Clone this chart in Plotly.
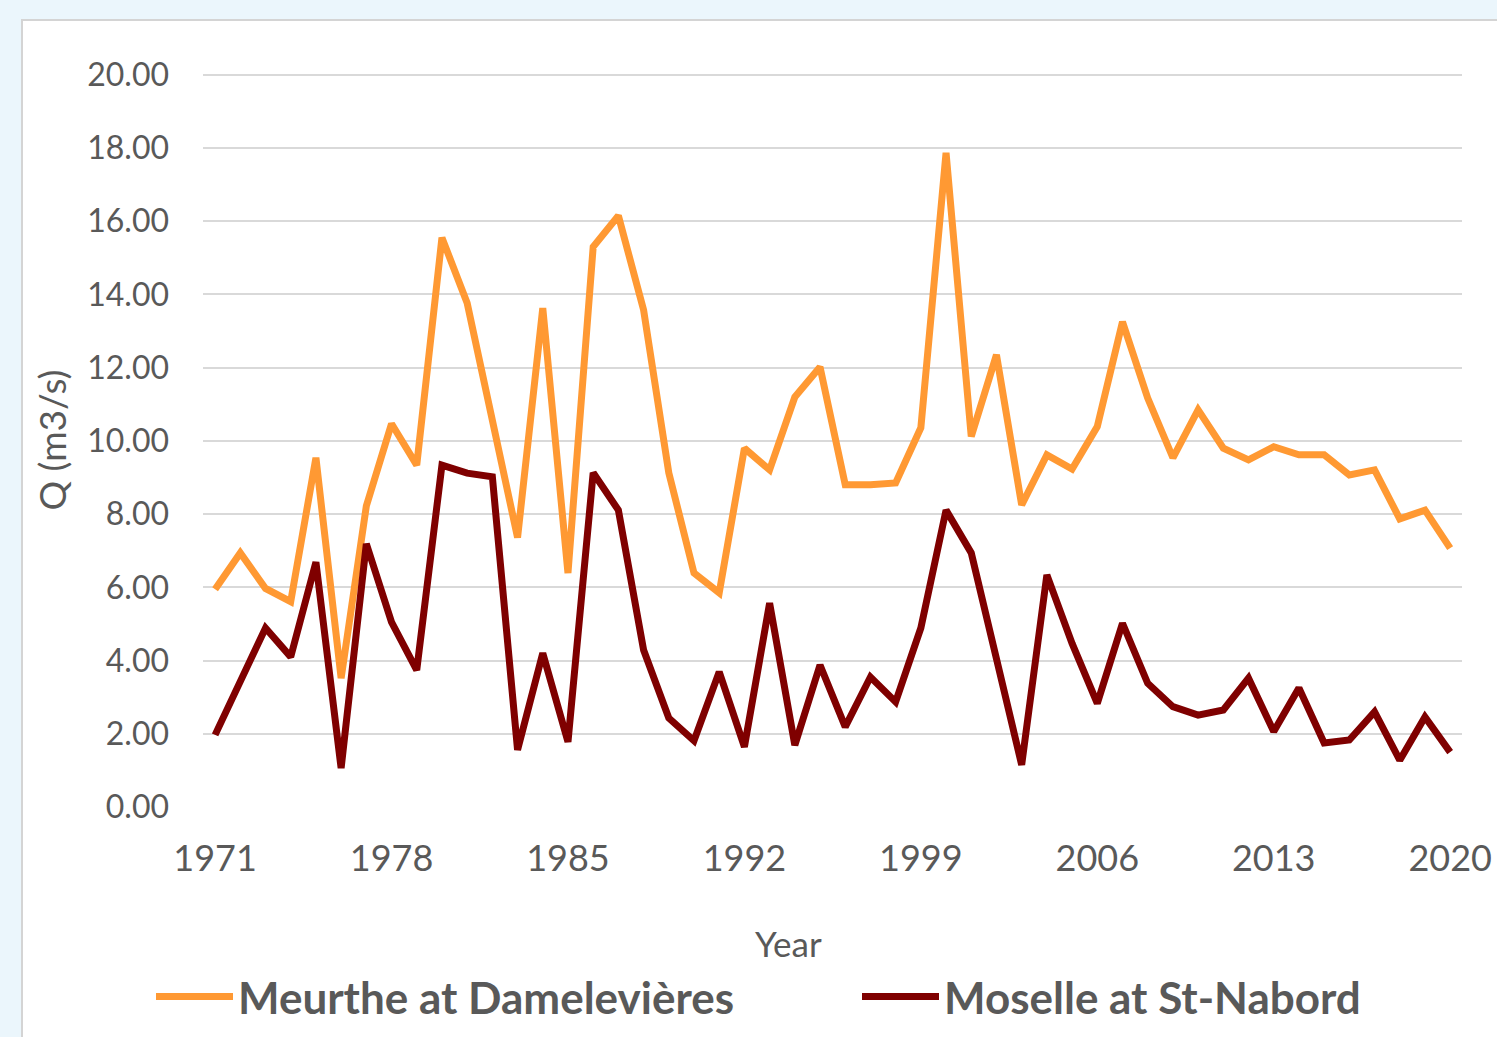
import plotly.graph_objects as go

years = list(range(1971, 2021))

meurthe = [5.95, 6.94, 5.97, 5.61, 9.54, 3.52, 8.22, 10.47, 9.34, 15.55,
           13.77, 10.55, 7.36, 13.63, 6.39, 15.30, 16.15, 13.58, 9.13, 6.39,
           5.85, 9.80, 9.21, 11.20, 12.02, 8.80, 8.80, 8.85, 10.36, 17.87,
           10.12, 12.35, 8.25, 9.62, 9.23, 10.39, 13.25, 11.17, 9.54, 10.85,
           9.80, 9.48, 9.84, 9.62, 9.62, 9.07, 9.21, 7.87, 8.11, 7.07]

moselle = [1.97, 3.45, 4.89, 4.10, 6.69, 1.06, 7.19, 5.05, 3.74, 9.34,
           9.12, 9.02, 1.56, 4.20, 1.78, 9.13, 8.11, 4.29, 2.43, 1.81,
           3.69, 1.64, 5.57, 1.69, 3.88, 2.19, 3.55, 2.87, 4.89, 8.11,
           6.94, 4.05, 1.15, 6.34, 4.47, 2.83, 5.02, 3.38, 2.74, 2.51,
           2.65, 3.52, 2.06, 3.25, 1.75, 1.83, 2.60, 1.28, 2.46, 1.50]

tick_years = [1971, 1978, 1985, 1992, 1999, 2006, 2013, 2020]
y_ticks = [0, 2, 4, 6, 8, 10, 12, 14, 16, 18, 20]

series_names = ["Meurthe at Damelevières", "Moselle at St-Nabord"]
colors = ["#FF9933", "#7F0000"]

FONT = "Lato"
GREY = "#595959"
PAGE_BG = "#EBF6FC"

fig = go.Figure()
for name, vals, col in zip(series_names, [meurthe, moselle], colors):
    fig.add_trace(go.Scatter(
        x=years, y=vals, mode="lines", name=name,
        line=dict(color=col, width=7),
    ))

W, H = 1497, 1037
ml, mr, mt, mb = 203, 35, 73, 230
pw = W - ml - mr
ph = H - mt - mb

def px2x(px):
    return (px - ml) / pw

def py2y(py):
    return (H - mb - py) / ph

fig.update_layout(
    width=W, height=H,
    margin=dict(l=ml, r=mr, t=mt, b=mb, autoexpand=False),
    paper_bgcolor=PAGE_BG,
    plot_bgcolor="white",
    font=dict(family=FONT, color=GREY),
    showlegend=True,
    legend=dict(
        orientation="h",
        x=px2x(151), xanchor="left",
        y=py2y(997), yanchor="middle",
        font=dict(family=FONT, size=44, color=GREY, weight="bold"),
        bgcolor="rgba(0,0,0,0)",
        entrywidth=614, entrywidthmode="pixels",
        itemwidth=77,
    ),
    shapes=[dict(
        type="rect", xref="paper", yref="paper", layer="below",
        x0=px2x(22), x1=px2x(1520), y0=py2y(1060), y1=py2y(20),
        fillcolor="white", line=dict(color="#D4D4D4", width=2),
    )],
    annotations=[dict(
        text="Year", xref="paper", yref="paper",
        x=px2x(788), y=py2y(943), xanchor="center", yanchor="middle",
        showarrow=False, font=dict(family=FONT, size=35, color=GREY),
    )],
)

fig.update_xaxes(
    range=[1970.52, 2020.47],
    tickmode="array", tickvals=tick_years, ticktext=[str(t) for t in tick_years],
    showgrid=False, zeroline=False, showline=False,
    tickfont=dict(family=FONT, size=36, color=GREY),
    ticks="", ticklabelstandoff=27,
)
fig.update_yaxes(
    range=[0, 20.05],
    tickmode="array", tickvals=y_ticks, ticktext=[f"{v:.2f}" for v in y_ticks],
    showgrid=True, gridcolor="#D9D9D9", gridwidth=2,
    zeroline=False, showline=False,
    tickfont=dict(family=FONT, size=32, color=GREY),
    ticks="", ticklabelstandoff=33,
    title=dict(text="Q (m3/s)", font=dict(family=FONT, size=37, color=GREY), standoff=9),
)

fig.write_html(
    "out.html",
    config={"displayModeBar": False},
    post_script=f"document.body.style.margin='0';document.body.style.background='{PAGE_BG}';",
)
